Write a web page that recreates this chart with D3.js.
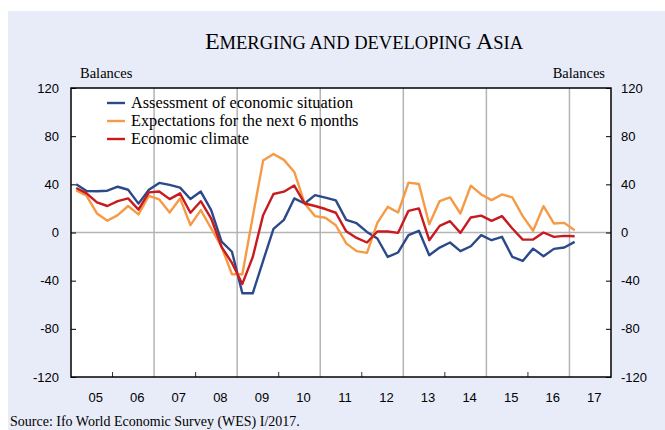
<!DOCTYPE html>
<html>
<head>
<meta charset="utf-8">
<script src="https://cdn.jsdelivr.net/npm/d3@7"></script>
<style>
  body { margin: 0; background: #fff; }
  svg { display: block; }
</style>
</head>
<body>
<div id="container"></div>
<script>
const width = 665,
  height = 430,
  margin = { top: 88, bottom: 53, left: 71, right: 54 };

// quarterly, 2005 Q1 .. 2017 Q1
const startYear = 2005;
const yearLabels = ["05", "06", "07", "08", "09", "10", "11", "12", "13", "14", "15", "16", "17"];
const yTicks = [-120, -80, -40, 0, 40, 80, 120];

const assessment = [40, 34.5, 34.3, 34.7, 38, 35.5, 24, 35.5, 41.2, 39.5, 37.3, 27.8, 34, 18.6,
  -7.5, -16, -50.5, -50.5, -23.5, 3, 10.5, 28.3, 24.1, 31, 29, 26.7, 10.5, 7.7, 0.5, -5,
  -20.3, -16.6, -2.2, 1.4, -18.9, -12.5, -8.3, -15.5, -11.4, -2.2, -6.4, -3.6, -20.3, -23.6,
  -13.4, -19.7, -13.6, -12.5, -7.8];
const expectations = [35, 30.5, 15.8, 9.7, 14.4, 22, 15, 30.5, 27.5, 16.6, 28.3, 6.1, 18.6, 3.3,
  -12, -34.7, -34.7, 13, 59.7, 65.2, 60.3, 50.3, 24.1, 13.6, 12.3, 6, -9, -15.5, -16.9, 8,
  21.3, 16.6, 41.4, 40.3, 6.9, 26.1, 29.1, 15.8, 38.9, 31.6, 26.9, 31.6, 29.1, 13.6, 1.4,
  21.9, 7.5, 8, 1.9];
const climate = [37, 32.5, 25, 22, 26, 28.3, 19, 33.3, 34, 27.7, 32.5, 16.4, 26, 11.6,
  -12, -25.3, -42.7, -20.5, 14.4, 32, 33.9, 39, 24.1, 22, 19.5, 16.4, 1, -4.5, -8.3, 0.8,
  0.8, -0.3, 18, 20, -6.4, 5.5, 9.4, -0.3, 12.5, 14, 9.7, 13.6, 3.3, -5.9, -5.9, 0, -3.6,
  -2.8, -3.1];

const series = [
  { name: "Assessment of economic situation", values: assessment, color: "#2c4a8a" },
  { name: "Expectations for the next 6 months", values: expectations, color: "#f79a45" },
  { name: "Economic climate", values: climate, color: "#c81a1f" }
];

const svg = d3.select("#container")
  .append("svg")
  .attr("width", width)
  .attr("height", height)

// lavender panel
svg.append("rect")
  .attr("x", 8).attr("y", 11)
  .attr("width", width - 8).attr("height", height - 11)
  .style("fill", "#e8ecf8")

const xScale = d3.scaleLinear()
  .domain([startYear, startYear + yearLabels.length])
  .range([margin.left, width - margin.right])

const yScale = d3.scaleLinear()
  .domain([-120, 120])
  .range([height - margin.bottom, margin.top])

svg.append("rect")
  .attr("x", margin.left).attr("y", margin.top)
  .attr("width", xScale.range()[1] - margin.left)
  .attr("height", yScale(-120) - margin.top)
  .style("fill", "white")

const years = d3.range(startYear + 1, startYear + yearLabels.length);

// vertical grid every second year
svg.append("g")
  .selectAll("line")
  .data(years.filter(y => (y - startYear) % 2 === 0))
  .join("line")
  .attr("x1", d => xScale(d)).attr("x2", d => xScale(d))
  .attr("y1", margin.top).attr("y2", yScale(-120))
  .attr("stroke", "#b4b4b4")
  .attr("stroke-width", 1.5)

// zero line
svg.append("line")
  .attr("x1", margin.left).attr("x2", xScale.range()[1])
  .attr("y1", yScale(0)).attr("y2", yScale(0))
  .attr("stroke", "#b4b4b4")
  .attr("stroke-width", 1.5)

// small ticks on the other years
svg.append("g")
  .selectAll("line")
  .data(years.filter(y => (y - startYear) % 2 === 1))
  .join("line")
  .attr("x1", d => xScale(d)).attr("x2", d => xScale(d))
  .attr("y1", yScale(-120)).attr("y2", yScale(-120) - 5)
  .attr("stroke", "#333")

const leftAxis = svg.append("g")
  .attr("transform", `translate(${margin.left},0)`)
  .call(d3.axisRight(yScale).tickValues(yTicks).tickSize(5).tickFormat(""))
leftAxis.select(".domain").remove()

const rightAxis = svg.append("g")
  .attr("transform", `translate(${xScale.range()[1]},0)`)
  .call(d3.axisLeft(yScale).tickValues(yTicks).tickSize(5).tickFormat(""))
rightAxis.select(".domain").remove()

svg.append("rect")
  .attr("x", margin.left).attr("y", margin.top)
  .attr("width", xScale.range()[1] - margin.left)
  .attr("height", yScale(-120) - margin.top)
  .style("fill", "none")
  .attr("stroke", "black")
  .attr("stroke-width", 1.5)

// y labels both sides
const labelFont = "Liberation Sans, Arial, sans-serif";
svg.append("g")
  .selectAll("text")
  .data(yTicks)
  .join("text")
  .attr("x", margin.left - 12)
  .attr("y", d => yScale(d) + 4.5)
  .attr("text-anchor", "end")
  .style("font-family", labelFont)
  .style("font-size", "13px")
  .text(d => d)

svg.append("g")
  .selectAll("text")
  .data(yTicks)
  .join("text")
  .attr("x", xScale.range()[1] + 10)
  .attr("y", d => yScale(d) + 4.5)
  .style("font-family", labelFont)
  .style("font-size", "13px")
  .text(d => d)

svg.append("g")
  .selectAll("text")
  .data(yearLabels)
  .join("text")
  .attr("x", (d, i) => xScale(startYear + i + 0.5) + 4)
  .attr("y", yScale(-120) + 25)
  .attr("text-anchor", "middle")
  .style("font-family", labelFont)
  .style("font-size", "13px")
  .text(d => d)

const serif = "Liberation Serif, Times New Roman, serif";

svg.append("text")
  .attr("x", 80).attr("y", 78)
  .style("font-family", serif).style("font-size", "14.5px")
  .text("Balances")

svg.append("text")
  .attr("x", 605).attr("y", 78)
  .attr("text-anchor", "end")
  .style("font-family", serif).style("font-size", "14.5px")
  .text("Balances")

const title = svg.append("text")
  .attr("x", 364).attr("y", 49)
  .attr("text-anchor", "middle")
  .style("font-family", serif)
title.append("tspan").style("font-size", "24px").text("E")
title.append("tspan").style("font-size", "18.5px").text("MERGING AND DEVELOPING ")
title.append("tspan").style("font-size", "24px").text("A")
title.append("tspan").style("font-size", "18.5px").text("SIA")

svg.append("text")
  .attr("x", 10).attr("y", 426)
  .style("font-family", serif).style("font-size", "14px")
  .text("Source: Ifo World Economic Survey (WES) I/2017.")

// lines
const line = d3.line()
  .x((d, i) => xScale(startYear + (i + 0.5) / 4))
  .y(d => yScale(d))

svg.append("g")
  .selectAll("path")
  .data(series)
  .join("path")
  .attr("d", d => line(d.values))
  .attr("fill", "none")
  .attr("stroke", d => d.color)
  .attr("stroke-width", 2.4)
  .attr("stroke-linejoin", "round")

// legend
const legend = svg.append("g")
  .selectAll("g")
  .data(series)
  .join("g")
  .attr("transform", (d, i) => `translate(107,${103 + i * 18})`)

legend.append("line")
  .attr("x1", 0).attr("x2", 18)
  .attr("stroke", d => d.color)
  .attr("stroke-width", 2.4)

legend.append("text")
  .attr("x", 24).attr("y", 5)
  .style("font-family", serif).style("font-size", "16.3px")
  .text(d => d.name)
</script>
</body>
</html>
